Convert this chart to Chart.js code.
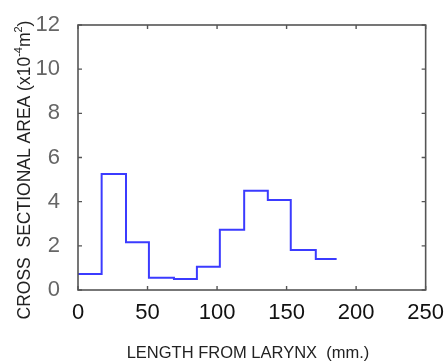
<!DOCTYPE html>
<html><head><meta charset="utf-8">
<script src="https://cdn.jsdelivr.net/npm/chart.js@4"></script>
<style>html,body{margin:0;padding:0;background:#fff}canvas{display:block}</style>
</head><body>
<canvas id="c" width="446" height="361"></canvas>
<script>
// Section boundaries along the tract (mm) and area of each section (x10^-4 m^2)
const edges = [0, 17, 34.5, 51, 69, 85.5, 102, 119.5, 136.5, 153, 171, 186];
const areas = [0.72, 5.25, 2.16, 0.56, 0.50, 1.05, 2.73, 4.49, 4.07, 1.81, 1.40];
const xTicks = [0, 50, 100, 150, 200, 250];
const yTicks = [0, 2, 4, 6, 8, 10, 12];
const xTitle = 'LENGTH FROM LARYNX  (mm.)';
const yTitleParts = [['CROSS  SECTIONAL AREA (x10', 0], ['-4', 1], ['m', 0], ['2', 1], [')', 0]];

const points = edges.map((x, i) => ({ x: x, y: areas[Math.min(i, areas.length - 1)] }));
const FONT = "'Liberation Sans', Arial, sans-serif";

const framePlugin = {
  id: 'frame',
  afterDraw(chart) {
    const ctx = chart.ctx, a = chart.chartArea;
    const xs = chart.scales.x, ys = chart.scales.y;
    ctx.save();
    ctx.strokeStyle = '#555';
    ctx.lineWidth = 1.6;
    ctx.strokeRect(a.left, a.top, a.right - a.left, a.bottom - a.top);
    ctx.lineWidth = 1.4;
    const L = 4;
    ctx.beginPath();
    xTicks.forEach(v => {
      const px = xs.getPixelForValue(v);
      ctx.moveTo(px, a.bottom); ctx.lineTo(px, a.bottom - L);
      ctx.moveTo(px, a.top); ctx.lineTo(px, a.top + L);
    });
    yTicks.forEach(v => {
      const py = ys.getPixelForValue(v);
      ctx.moveTo(a.left, py); ctx.lineTo(a.left + L, py);
      ctx.moveTo(a.right, py); ctx.lineTo(a.right - L, py);
    });
    ctx.stroke();

    // x title
    ctx.fillStyle = '#222';
    ctx.font = '16.5px ' + FONT;
    ctx.textAlign = 'center';
    ctx.textBaseline = 'alphabetic';
    ctx.fillText(xTitle, 248, 358);

    // y title with superscripts
    const big = '17.5px ' + FONT, small = '11px ' + FONT;
    let total = 0;
    yTitleParts.forEach(p => { ctx.font = p[1] ? small : big; total += ctx.measureText(p[0]).width; });
    ctx.translate(30, 170);
    ctx.rotate(-Math.PI / 2);
    ctx.textAlign = 'left';
    let x0 = -total / 2;
    yTitleParts.forEach(p => {
      ctx.font = p[1] ? small : big;
      ctx.fillText(p[0], x0, p[1] ? -8 : 0);
      x0 += ctx.measureText(p[0]).width;
    });
    ctx.restore();
  }
};

new Chart(document.getElementById('c'), {
  type: 'line',
  data: {
    datasets: [{
      data: points,
      stepped: 'before',
      borderColor: '#3b3bff',
      borderWidth: 2,
      pointRadius: 0,
      fill: false
    }]
  },
  options: {
    responsive: false,
    animation: false,
    layout: { padding: { top: 25, right: 18, left: 0, bottom: 0 } },
    plugins: { legend: { display: false }, tooltip: { enabled: false } },
    scales: {
      x: {
        type: 'linear', min: 0, max: 250,
        afterBuildTicks: s => { s.ticks = xTicks.map(v => ({ value: v })); },
        afterFit: s => { s.height = 71; },
        grid: { display: false }, border: { display: false },
        ticks: { padding: 2, color: '#111', font: { family: FONT, size: 22 }, maxRotation: 0 }
      },
      y: {
        min: 0, max: 12,
        afterBuildTicks: s => { s.ticks = yTicks.map(v => ({ value: v })); },
        afterFit: s => { s.width = 78; },
        grid: { display: false }, border: { display: false },
        ticks: { padding: 10, color: '#666', font: { family: FONT, size: 22 } }
      }
    }
  },
  plugins: [framePlugin]
});
</script>
</body></html>
